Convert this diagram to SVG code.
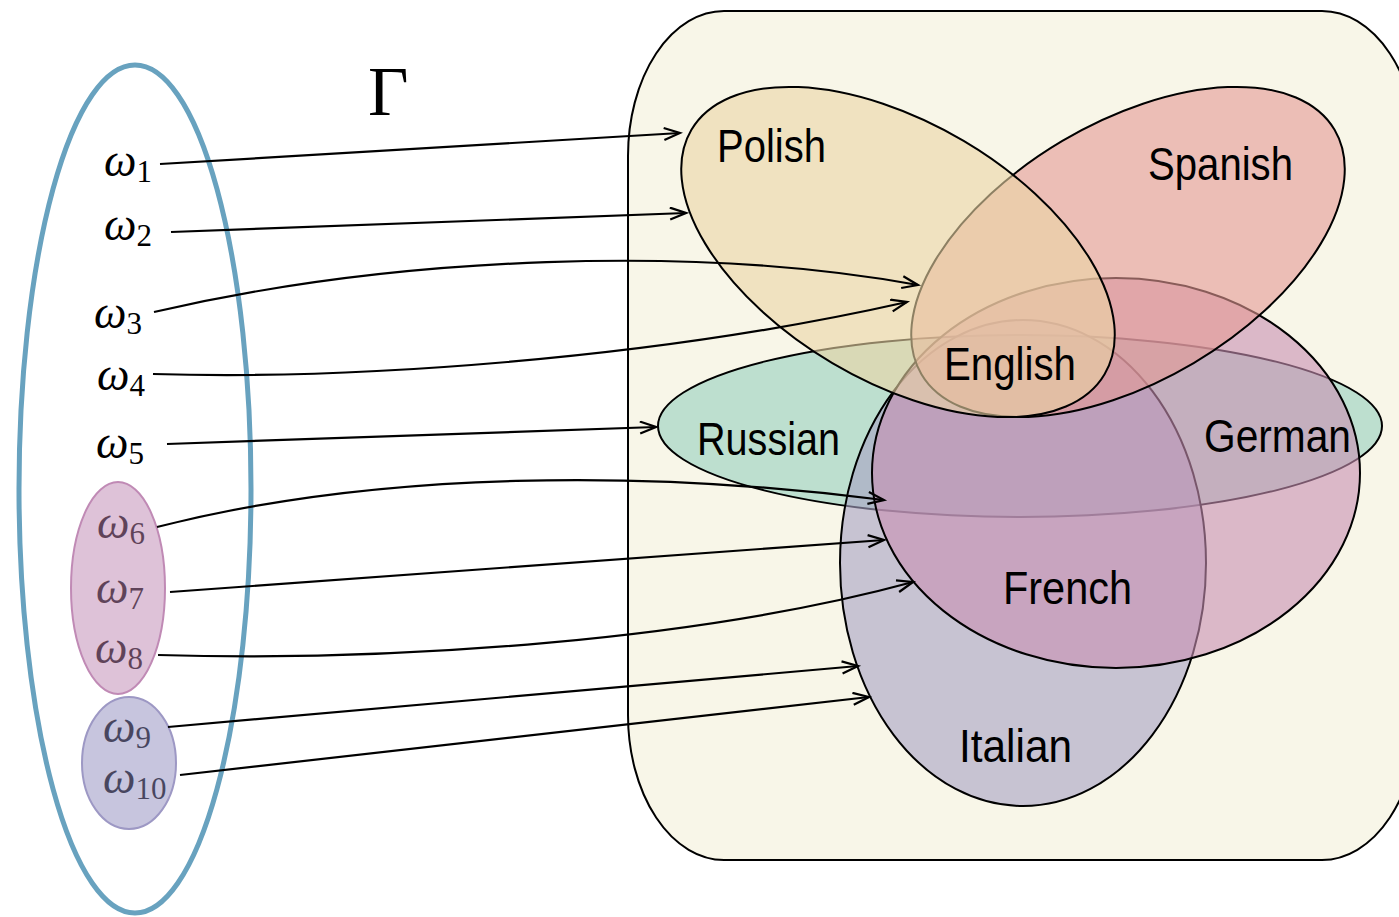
<svg xmlns="http://www.w3.org/2000/svg" width="1399" height="917" viewBox="0 0 1399 917">
  <style>
    .lang { font-family: "Liberation Sans", Arial, sans-serif; font-size: 46px; fill: #000; }
    .om { font-family: "Liberation Serif", "Times New Roman", serif; font-style: italic; font-size: 46px; fill: #000; }
    .sub { font-style: normal; font-size: 31px; }
    .set { stroke: #000; stroke-width: 2; fill-opacity: 0.6; }
    .conn { fill: none; stroke: #000; stroke-width: 2.2; marker-end: url(#arrow); }
  </style>
  <defs>
    <marker id="arrow" markerUnits="userSpaceOnUse" markerWidth="22" markerHeight="16" refX="19" refY="7" orient="auto">
      <path d="M3,1 L19,7 L3,13" fill="none" stroke="#000" stroke-width="2.2" stroke-linejoin="miter"/>
    </marker>
  </defs>
  <rect width="1399" height="917" fill="#ffffff"/>

  <!-- sample space -->
  <g id="omega-set">
    <ellipse cx="135" cy="489" rx="116" ry="424" fill="none" stroke="#68a2bf" stroke-width="5"/>
    <text class="om" x="104" y="176">ω<tspan class="sub" dy="6">1</tspan></text>
    <text class="om" x="104" y="240">ω<tspan class="sub" dy="6">2</tspan></text>
    <text class="om" x="94" y="328">ω<tspan class="sub" dy="6">3</tspan></text>
    <text class="om" x="97" y="390">ω<tspan class="sub" dy="6">4</tspan></text>
    <text class="om" x="96" y="458">ω<tspan class="sub" dy="6">5</tspan></text>
  </g>
  <g id="omega-6-8">
    <text class="om" x="97" y="538">ω<tspan class="sub" dy="6">6</tspan></text>
    <text class="om" x="96" y="603">ω<tspan class="sub" dy="6">7</tspan></text>
    <text class="om" x="95" y="663">ω<tspan class="sub" dy="6">8</tspan></text>
    <ellipse cx="118" cy="588" rx="47" ry="106" fill="#bd86b1" fill-opacity="0.5" stroke="#c08ab5" stroke-width="2"/>
  </g>
  <g id="omega-9-10">
    <text class="om" x="103" y="742">ω<tspan class="sub" dy="6">9</tspan></text>
    <text class="om" x="103" y="793">ω<tspan class="sub" dy="6">10</tspan></text>
    <ellipse cx="129" cy="763" rx="47" ry="66" fill="#908cbd" fill-opacity="0.5" stroke="#9d98c4" stroke-width="2"/>
  </g>
  <g id="gamma">
    <text x="368" y="115" font-family="Liberation Serif, serif" font-size="70">Γ</text>
  </g>

  <!-- language space -->
  <g id="languages">
    <rect x="628" y="11" width="790" height="849" rx="96" ry="145" fill="#f8f6e8" stroke="#000" stroke-width="2"/>
  </g>
  <g id="russian">
    <ellipse class="set" cx="1020" cy="426" rx="362" ry="91" fill="#96d1be"/>
  </g>
  <g id="italian">
    <ellipse class="set" cx="1023" cy="563" rx="183" ry="243" fill="#a6a1c3"/>
  </g>
  <g id="french">
    <ellipse class="set" cx="1116" cy="473" rx="244" ry="195" fill="#c890b3"/>
  </g>
  <g id="spanish">
    <ellipse class="set" cx="0" cy="0" rx="240" ry="129" transform="translate(1128 252) rotate(-30.6)" fill="#e49a95"/>
  </g>
  <g id="polish">
    <ellipse class="set" cx="0" cy="0" rx="240" ry="129" transform="translate(898 252) rotate(30.6)" fill="#ebd5a5"/>
  </g>

  <g id="labels">
    <text class="lang" x="717" y="162" textLength="109" lengthAdjust="spacingAndGlyphs">Polish</text>
    <text class="lang" x="1148" y="180" textLength="145" lengthAdjust="spacingAndGlyphs">Spanish</text>
    <text class="lang" x="944" y="380" textLength="132" lengthAdjust="spacingAndGlyphs">English</text>
    <text class="lang" x="697" y="455" textLength="143" lengthAdjust="spacingAndGlyphs">Russian</text>
    <text class="lang" x="1204" y="452" textLength="147" lengthAdjust="spacingAndGlyphs">German</text>
    <text class="lang" x="1003" y="604" textLength="129" lengthAdjust="spacingAndGlyphs">French</text>
    <text class="lang" x="959" y="762" textLength="113" lengthAdjust="spacingAndGlyphs">Italian</text>
  </g>

  <!-- mapping arrows -->
  <g id="connectors">
    <path class="conn" d="M160,164 L680,133"/>
    <path class="conn" d="M171,232 L686,213"/>
    <path class="conn" d="M154,312 C400,255 700,245 918,285"/>
    <path class="conn" d="M153,374 C350,380 650,360 907,302"/>
    <path class="conn" d="M167,444 L656,427"/>
    <path class="conn" d="M157,527 C380,470 650,470 884,500"/>
    <path class="conn" d="M170,592 L884,540"/>
    <path class="conn" d="M158,655 C400,662 700,640 913,582"/>
    <path class="conn" d="M168,727 L858,666"/>
    <path class="conn" d="M180,775 L869,697"/>
  </g>
</svg>
